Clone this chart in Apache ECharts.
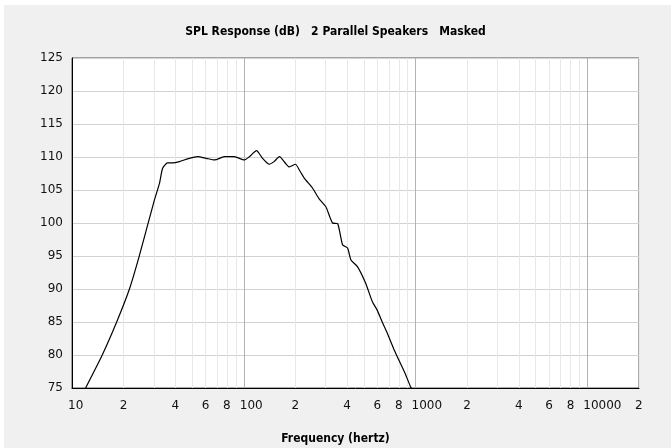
<!DOCTYPE html>
<html>
<head>
<meta charset="utf-8">
<script src="https://cdn.jsdelivr.net/npm/echarts@6/dist/echarts.min.js"></script>
<style>
    html, body { margin: 0; padding: 0; background: #fff; }
    #chart { width: 671px; height: 448px; }
</style>
</head>
<body>
<div id="chart"></div>
<script>
// frequency (Hz) / SPL (dB)
var freqHz = [12, 15, 18.2, 21.6, 24.4, 27.9, 30.2, 32.3, 33.7, 36.0, 38.6, 42.2, 48.2, 54, 60.4, 67.7, 77, 88, 100.8, 107.9,
    118.7, 128.6, 140.6, 150, 161.5, 174.8, 184, 200, 211, 225, 251, 274, 300, 305, 329, 352, 376, 402, 421, 459,
    512, 560, 598, 640, 685, 750, 801, 870, 935, 950];
var splDb = [75, 80, 85, 90, 94.6, 100.2, 103.5, 106.0, 108.3, 109.1, 109.1, 109.3, 109.8, 110.05, 109.8, 109.55, 110.05, 110.05, 109.55, 110.05,
    110.96, 109.8, 108.9, 109.3, 110.05, 109.05, 108.5, 108.9, 108.0, 106.8, 105.3, 103.7, 102.5, 102.1, 100.0, 99.9, 96.7, 96.2, 94.4, 93.4,
    90.9, 88.1, 86.8, 85.0, 83.3, 80.8, 79.2, 77.2, 75.2, 74.9];

// grid lines and labels on the frequency axis
var gridFreqs = [10, 20, 30, 40, 50, 60, 70, 80, 90,
    100, 200, 300, 400, 500, 600, 700, 800, 900,
    1000, 2000, 3000, 4000, 5000, 6000, 7000, 8000, 9000,
    10000, 20000];
var labelFreqs = [10, 20, 40, 60, 80, 100, 200, 400, 600, 800, 1000, 2000, 4000, 6000, 8000, 10000, 20000];
var yMin = 75, yMax = 125, yStep = 5;
var freqMin = 10, freqMax = 20000;

var chart = echarts.init(document.getElementById('chart'));

var lg = function (f) { return Math.log10(f); };

var boldFont = '"Liberation Sans Narrow", "DejaVu Sans Condensed", sans-serif';

var option = {
    backgroundColor: '#ffffff',
    animation: false,
    graphic: [
        {
            type: 'rect',
            z: -10,
            silent: true,
            shape: { x: 4, y: 5, width: 671, height: 448 },
            style: { fill: '#f0f0f0' }
        }
    ],
    title: [
        {
            text: 'SPL Response (dB)   2 Parallel Speakers   Masked',
            left: 'center',
            top: 21,
            textStyle: { fontFamily: boldFont, fontWeight: 'bold', fontSize: 12, color: '#000' }
        },
        {
            text: 'Frequency (hertz)',
            left: 'center',
            top: 428,
            textStyle: { fontFamily: boldFont, fontWeight: 'bold', fontSize: 12, color: '#000' }
        }
    ],
    grid: {
        left: 72,
        right: 32,
        top: 58,
        bottom: 60,
        show: true,
        backgroundColor: '#ffffff',
        borderColor: '#555555',
        borderWidth: 1
    },
    xAxis: {
        type: 'value',
        min: lg(freqMin),
        max: lg(freqMax),
        axisLine: { show: true, onZero: false, lineStyle: { color: '#000', width: 1 } },
        axisTick: { show: false, customValues: gridFreqs.map(lg) },
        axisLabel: {
            customValues: labelFreqs.map(lg),
            margin: 12,
            align: 'left',
            padding: [0, 0, 0, -4],
            hideOverlap: false,
            fontFamily: '"DejaVu Sans", sans-serif',
            fontSize: 12,
            color: '#111',
            formatter: function (v) {
                var s = String(Math.round(Math.pow(10, v)));
                return /^10*$/.test(s) ? s : s.charAt(0);
            }
        },
        splitLine: {
            show: true,
            lineStyle: {
                color: ['#b4b4b4', '#e8e8e8', '#e8e8e8', '#e8e8e8', '#e8e8e8', '#e8e8e8', '#e8e8e8', '#e8e8e8', '#e8e8e8'],
                width: 1
            }
        }
    },
    yAxis: {
        type: 'value',
        min: yMin,
        max: yMax,
        interval: yStep,
        axisLine: { show: true, lineStyle: { color: '#000', width: 1 } },
        axisTick: { show: false },
        axisLabel: {
            margin: 9,
            fontFamily: '"DejaVu Sans", sans-serif',
            fontSize: 12,
            color: '#111'
        },
        splitLine: { lineStyle: { color: '#d2d2d2', width: 1 } }
    },
    series: [
        {
            type: 'line',
            data: freqHz.map(function (f, i) { return [lg(f), splDb[i]]; }),
            showSymbol: false,
            smooth: 0.2,
            clip: true,
            lineStyle: { color: '#000', width: 1.2 }
        }
    ]
};

chart.setOption(option);
</script>
</body>
</html>
